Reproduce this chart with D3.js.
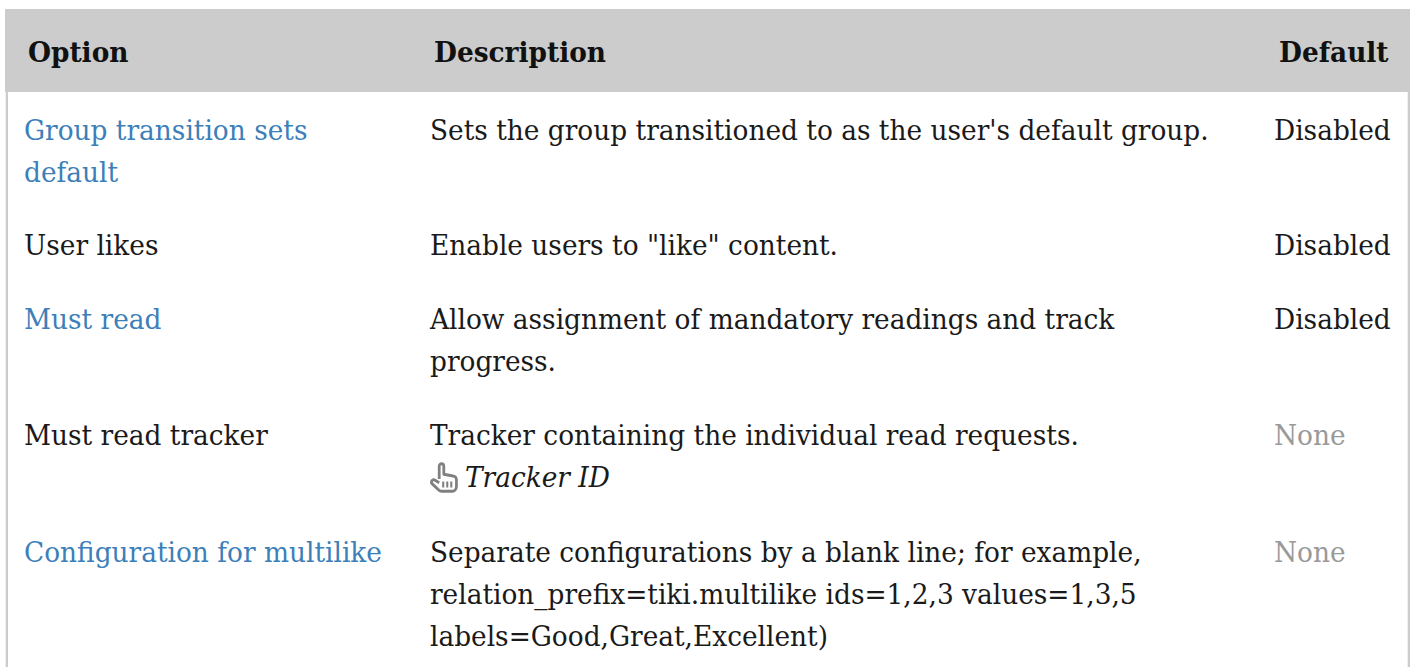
<!DOCTYPE html>
<html>
<head>
<meta charset="utf-8">
<script src="https://cdn.jsdelivr.net/npm/d3@7"></script>
<style>
html, body { margin: 0; padding: 0; background: #fff; overflow: hidden; }
svg { display: block; }
text { font-family: "DejaVu Serif", serif; font-size: 28px; fill: #1a1a1a; }
.head { font-weight: bold; fill: #111; }
.link { fill: #3d7fb9; }
.muted { fill: #999; }
</style>
</head>
<body>
<div id="chart"></div>
<script>
// table content
const columns = ["Option", "Description", "Default"];
const options = ["Group transition sets\ndefault", "User likes", "Must read", "Must read tracker", "Configuration for multilike"];
const linked = [true, false, true, false, true];
const descriptions = [
    "Sets the group transitioned to as the user's default group.",
    "Enable users to \"like\" content.",
    "Allow assignment of mandatory readings and track\nprogress.",
    "Tracker containing the individual read requests.\nTracker ID",
    "Separate configurations by a blank line; for example,\nrelation_prefix=tiki.multilike ids=1,2,3 values=1,3,5\nlabels=Good,Great,Excellent)"
];
const defaults = ["Disabled", "Disabled", "Disabled", "None", "None"];

const width = 1421, height = 667;
const lineGap = 42;
const rowBaselines = [140, 255, 329, 445, 562];
// the reference glyphs are a bit narrower than their height, so squeeze text horizontally
const squeeze = 0.943;
const px = x => x / squeeze;

const svg = d3.select("#chart").append("svg").attr("width", width).attr("height", height);

svg.append("rect").attr("x", 5).attr("y", 9).attr("width", 1405).attr("height", 83).attr("fill", "#cccccc");
svg.append("rect").attr("x", 5.7).attr("y", 92).attr("width", 2.3).attr("height", height - 92).attr("fill", "#cccccc");
svg.append("rect").attr("x", 1407.7).attr("y", 92).attr("width", 2.3).attr("height", height - 92).attr("fill", "#cccccc");

const textLayer = svg.append("g").attr("transform", `scale(${squeeze},1)`);

textLayer.selectAll("text.head").data(columns).join("text")
    .attr("class", "head")
    .attr("x", (d, i) => px([28, 434, 1279][i]))
    .attr("y", 62)
    .text(d => d);

function cell(x, cls) {
    return function (d, i) {
        const t = d3.select(this).attr("class", cls(i)).attr("x", px(x)).attr("y", rowBaselines[i]);
        t.selectAll("tspan").data(d.split("\n")).join("tspan")
            .attr("x", px(x))
            .attr("dy", (l, j) => j ? lineGap : 0)
            .text(l => l);
    };
}

textLayer.append("g").selectAll("text").data(options).join("text")
    .each(cell(24, i => linked[i] ? "link" : ""));
textLayer.append("g").selectAll("text").data(descriptions).join("text")
    .each(cell(430, () => ""));
textLayer.append("g").selectAll("text").data(defaults).join("text")
    .attr("class", d => d === "None" ? "muted" : "")
    .attr("x", px(1274))
    .attr("y", (d, i) => rowBaselines[i])
    .text(d => d);

// italic field label with the hand icon in front of it
const trackerLine = svg.selectAll("tspan").filter(d => d === "Tracker ID");
trackerLine.attr("x", px(465)).attr("font-style", "italic");

const hand = svg.append("g").attr("transform", "translate(430,462) scale(1.15,1.22)")
    .attr("fill", "none").attr("stroke", "#808080").attr("stroke-width", 2.4).attr("stroke-linejoin", "round");
hand.append("path").attr("d", "M8 14V3.5a2 2 0 0 1 4 0V10l8 1.5a3 3 0 0 1 3 3V20a4 4 0 0 1-4 4H10a4 4 0 0 1-3-1.500L1.500 17.500a2 2 0 0 1 3-2.500L8 17");
hand.append("path").attr("d", "M11.500 16v5M15 16v5M18.500 16v5").attr("stroke-width", 1.800);
</script>
</body>
</html>
